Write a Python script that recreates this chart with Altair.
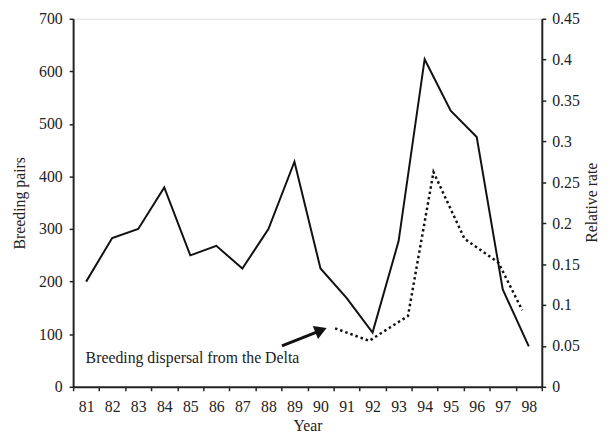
import altair as alt
import pandas as pd

years = list(range(81, 99))
pairs = [200, 283, 300, 379, 250, 268, 225, 300, 428, 225, 169, 103, 277, 623, 525, 475, 185, 77]

rate_x = [90.56, 91.87, 93.36, 94.34, 95.53, 96.83, 97.75]
rate_y = [0.0715, 0.0562, 0.0866, 0.2625, 0.181, 0.152, 0.0935]

left_ticks = [0, 100, 200, 300, 400, 500, 600, 700]
right_ticks = [0, 0.05, 0.1, 0.15, 0.2, 0.25, 0.3, 0.35, 0.4, 0.45]

note_text = "Breeding dispersal from the Delta"
note_x, note_y = 80.98, 55
arrow_start = (88.52, 78)
arrow_end = (90.0, 107)
head_pos = (90.02, 107.5)

FONT = "Liberation Serif"
INK = "#222"
FS = 16

df_pairs = pd.DataFrame({"year": years, "pairs": pairs})
df_rate = pd.DataFrame({"year": rate_x, "rate": rate_y})
df_note = pd.DataFrame({"x": [note_x], "y": [note_y], "t": [note_text]})
df_arrow = pd.DataFrame({"x": [arrow_start[0]], "y": [arrow_start[1]],
                         "x2": [arrow_end[0]], "y2": [arrow_end[1]]})
df_head = pd.DataFrame({"x": [head_pos[0]], "y": [head_pos[1]]})

xscale = alt.Scale(domain=[80.5, 98.5], nice=False, zero=False)
yscale = alt.Scale(domain=[0, 700], nice=False)

band_axis = alt.Axis(title="Year", grid=False, labelAngle=0, tickBand="extent",
                     labelFont=FONT, labelFontSize=FS, labelColor=INK,
                     titleFont=FONT, titleFontSize=FS, titleFontWeight="normal", titleColor=INK,
                     titlePadding=3, labelPadding=8,
                     tickSize=4, tickColor=INK, tickWidth=1.5,
                     domainColor=INK, domainWidth=2)

left_axis = alt.Axis(values=left_ticks, title="Breeding pairs", grid=False,
                     labelFont=FONT, labelFontSize=FS, labelColor=INK,
                     titleFont=FONT, titleFontSize=FS, titleFontWeight="normal", titleColor=INK,
                     titlePadding=11, labelPadding=7,
                     tickSize=4, tickColor=INK, tickWidth=1.5,
                     domainColor=INK, domainWidth=2)

right_axis = alt.Axis(values=right_ticks, title="Relative rate", orient="right", grid=False,
                      format="~g",
                      labelFont=FONT, labelFontSize=FS, labelColor=INK,
                      titleFont=FONT, titleFontSize=FS, titleFontWeight="normal", titleColor=INK,
                      titleAngle=270, titleX=50, titleY=186, titleAlign="center",
                      titleBaseline="middle", labelPadding=6,
                      tickSize=4, tickColor=INK, tickWidth=1.5,
                      domainColor=INK, domainWidth=2)

axis_layer = alt.Chart(df_pairs).mark_point(opacity=0).encode(
    x=alt.X("year:O", scale=alt.Scale(paddingInner=0, paddingOuter=0), axis=band_axis),
    y=alt.Y("pairs:Q", scale=yscale, axis=left_axis),
)

pairs_line = alt.Chart(df_pairs).mark_line(color="#111", strokeWidth=2).encode(
    x=alt.X("year:Q", scale=xscale, axis=None),
    y=alt.Y("pairs:Q", scale=yscale),
)

note = alt.Chart(df_note).mark_text(font=FONT, fontSize=FS, align="left", baseline="middle",
                                    color=INK).encode(
    x=alt.X("x:Q", scale=xscale, axis=None), y=alt.Y("y:Q", scale=yscale), text="t:N")

arrow = alt.Chart(df_arrow).mark_rule(color="#111", strokeWidth=3).encode(
    x=alt.X("x:Q", scale=xscale, axis=None), y=alt.Y("y:Q", scale=yscale), x2="x2", y2="y2")

head = alt.Chart(df_head).mark_point(shape="triangle-up", filled=True, color="#111",
                                     size=200, angle=68, opacity=1).encode(
    x=alt.X("x:Q", scale=xscale, axis=None), y=alt.Y("y:Q", scale=yscale))

quant_layer = alt.layer(pairs_line, note, arrow, head)
left_layer = alt.layer(axis_layer, quant_layer).resolve_scale(x="independent")

rate_line = alt.Chart(df_rate).mark_line(color="#111", strokeWidth=2.5, strokeDash=[2.5, 3]).encode(
    x=alt.X("year:Q", scale=xscale, axis=None),
    y=alt.Y("rate:Q", scale=alt.Scale(domain=[0, 0.45], nice=False), axis=right_axis),
)

chart = alt.layer(left_layer, rate_line).resolve_scale(x="independent", y="independent").properties(
    width=475, height=373,
    autosize=alt.AutoSizeParams(type="none"),
    padding={"left": 66, "top": 8, "right": 61, "bottom": 47},
).configure_view(stroke=INK, strokeWidth=1.5).configure(background="white")

chart.save("out.html", embed_options={"renderer": "svg", "actions": False})
